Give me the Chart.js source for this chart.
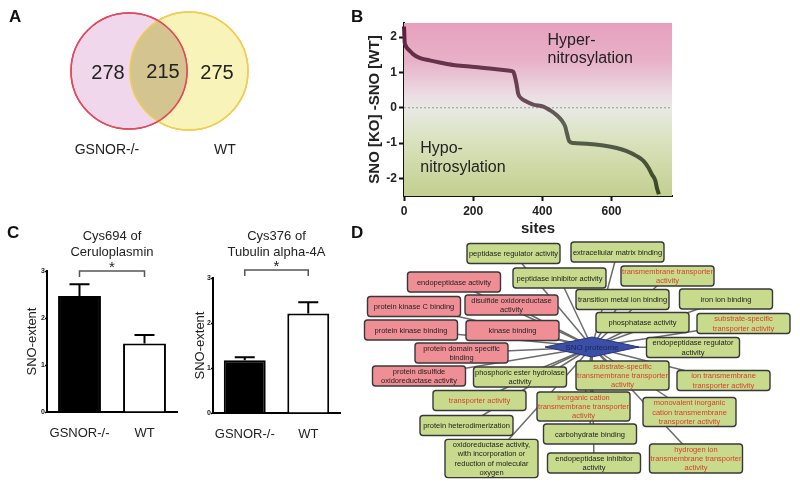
<!DOCTYPE html>
<html>
<head>
<meta charset="utf-8">
<title>SNO proteome</title>
<script src="https://cdn.jsdelivr.net/npm/chart.js@4.4.1/dist/chart.umd.min.js"></script>
<style>
  body { margin: 0; width: 800px; height: 489px; position: relative; overflow: hidden; background: #fff;
         font-family: "Liberation Sans", Arial, sans-serif; }
  canvas { position: absolute; }
  .tag { position: absolute; font-weight: bold; font-size: 17px; color: #111; line-height: 1; }
</style>
</head>
<body>
<canvas id="venn" width="330" height="200" style="left:0;top:0"></canvas>
<canvas id="diff" width="340" height="240" style="left:340px;top:0"></canvas>
<canvas id="cerulo" width="190" height="222" style="left:0;top:228px"></canvas>
<canvas id="tubulin" width="160" height="222" style="left:185px;top:228px"></canvas>
<canvas id="network" width="460" height="257" style="left:340px;top:232px"></canvas>
<div class="tag" style="left:9px;top:8px">A</div>
<div class="tag" style="left:351px;top:8px">B</div>
<div class="tag" style="left:7px;top:224px">C</div>
<div class="tag" style="left:351px;top:224px">D</div>
<script>
var fam = '"Liberation Sans", Arial, sans-serif';
Chart.defaults.font.family = fam;

// --- A: overlap of SNO sites
var vennSets = ['GSNOR-/-', 'WT'];
var vennOnly = [278, 275];
var vennShared = 215;

// --- B: sorted SNO difference per site
var siteIdx = [0, 2, 4, 7, 16, 26, 45, 74, 103, 142, 190, 239, 287, 305, 316, 321, 326, 330, 340, 355,
               374, 403, 422, 442, 456, 466, 471, 478, 490, 528, 577, 615, 644, 673, 693, 707, 717, 727, 731, 737];
var snoDiff = [2.3, 1.85, 1.78, 1.71, 1.62, 1.52, 1.41, 1.34, 1.28, 1.21, 1.17, 1.12, 1.07, 1.05, 1.02, 0.87, 0.64, 0.40, 0.26, 0.17,
               0.09, 0.03, -0.07, -0.21, -0.36, -0.53, -0.72, -0.95, -1.0, -1.02, -1.07, -1.14, -1.23, -1.37, -1.51, -1.70, -1.89, -2.07, -2.26, -2.45];
var siteTicks = [0, 200, 400, 600];
var diffTicks = [-2, -1, 0, 1, 2];

// --- C: SNO-extent bars
var groups = ['GSNOR-/-', 'WT'];
var cerulo = [2.47, 1.46];
var ceruloErr = [0.25, 0.18];
var tubulin = [1.17, 2.21];
var tubulinErr = [0.07, 0.25];
var extentTicks = [0, 1, 2, 3];

// --- D: GO terms around the SNO proteome
var hubLabel = 'SNO proteome';
var goTerms = [
  'peptidase regulator activity',
  'extracellular matrix binding',
  'endopeptidase activity',
  'peptidase inhibitor activity',
  'transmembrane transporter\nactivity',
  'protein kinase C binding',
  'disulfide oxidoreductase\nactivity',
  'transition metal ion binding',
  'iron ion binding',
  'protein kinase binding',
  'kinase binding',
  'phosphatase activity',
  'substrate-specific\ntransporter activity',
  'endopeptidase regulator\nactivity',
  'protein domain specific\nbinding',
  'protein disulfide\noxidoreductase activity',
  'phosphoric ester hydrolase\nactivity',
  'substrate-specific\ntransmembrane transporter\nactivity',
  'ion transmembrane\ntransporter activity',
  'transporter activity',
  'inorganic cation\ntransmembrane transporter\nactivity',
  'monovalent inorganic\ncation transmembrane\ntransporter activity',
  'protein heterodimerization',
  'carbohydrate binding',
  'oxidoreductase activity,\nwith incorporation or\nreduction of molecular\noxygen',
  'endopeptidase inhibitor\nactivity',
  'hydrogen ion\ntransmembrane transporter\nactivity'
];
// g = green box, r = red box, t = green box with red text (transporter terms)
var goKind = ['g', 'g', 'r', 'g', 't', 'r', 'r', 'g', 'g', 'r', 'r', 'g', 't', 'g', 'r', 'r', 'g', 't', 't', 't', 't', 't', 'g', 'g', 'g', 'g', 't'];

// network layout (canvas units)
var hubPos = [252, 115];
var nodePos = [[173.5, 21.5], [277.5, 20], [114, 50], [219.5, 46], [327.5, 44], [74, 74.5], [171.5, 73], [282.5, 67.5],
  [386, 67], [71, 98], [172.5, 98.5], [302.5, 90.5], [403.5, 91.5], [353, 115.5], [121.5, 121], [79, 144], [180, 145],
  [282.5, 143.5], [383.5, 148.5], [139.5, 168.5], [243.5, 174.5], [349.5, 180], [126.5, 193.5], [250, 202],
  [151.5, 226.5], [254, 231], [356, 226.5]];

var noTips = { legend: { display: false }, tooltip: { enabled: false } };

// ================= A =================
var vennLayout = { cx: [129, 189], cy: 71, r: [58, 59] };
var vennFill = ['#f0d7ec', '#f8f3b8'];
var vennEdge = ['#e14a5c', '#f0cd50'];

var vennPlugin = {
  id: 'vennText',
  afterDatasetsDraw: function (chart) {
    var ctx = chart.ctx, xs = chart.scales.x, ys = chart.scales.y;
    var pts = chart.data.datasets.map(function (d) { return d.data[0]; });
    var px = pts.map(function (p) { return xs.getPixelForValue(p.x); });
    var py = ys.getPixelForValue(pts[0].y);
    ctx.save();
    ctx.beginPath(); ctx.arc(px[0], py, pts[0].r, 0, Math.PI * 2); ctx.clip();
    ctx.beginPath(); ctx.arc(px[1], py, pts[1].r, 0, Math.PI * 2);
    ctx.fillStyle = '#d4c590'; ctx.fill();
    ctx.restore();
    ctx.save();
    ctx.lineWidth = 1.5;
    [1, 0].forEach(function (i) {
      ctx.beginPath(); ctx.arc(px[i], py, pts[i].r, 0, Math.PI * 2);
      ctx.strokeStyle = vennEdge[i]; ctx.stroke();
    });
    ctx.fillStyle = '#222'; ctx.textAlign = 'center'; ctx.textBaseline = 'middle';
    ctx.font = '20px ' + fam;
    ctx.fillText(vennOnly[0], px[0] - 21, py + 2);
    ctx.fillText(vennShared, (px[0] + px[1]) / 2 + 4, py + 1);
    ctx.fillText(vennOnly[1], px[1] + 28, py + 2);
    ctx.font = '14px ' + fam;
    ctx.fillText(vennSets[0], px[0] - 22, py + 79);
    ctx.fillText(vennSets[1], px[1] + 36, py + 79);
    ctx.restore();
  }
};

new Chart(document.getElementById('venn'), {
  type: 'bubble',
  data: {
    datasets: vennSets.map(function (name, i) {
      return {
        label: name,
        data: [{ x: vennLayout.cx[i], y: vennLayout.cy, r: vennLayout.r[i] }],
        backgroundColor: vennFill[i], borderColor: vennEdge[i], borderWidth: 1.5, clip: false
      };
    })
  },
  options: {
    responsive: false, animation: false, layout: { padding: 0, autoPadding: false }, plugins: noTips,
    scales: { x: { display: false, min: 0, max: 330 }, y: { display: false, min: 0, max: 200, reverse: true } }
  },
  plugins: [vennPlugin]
});

// ================= B =================
var bgPlugin = {
  id: 'bands',
  beforeDatasetsDraw: function (chart) {
    var ctx = chart.ctx, a = chart.chartArea, xs = chart.scales.x, ys = chart.scales.y;
    var g = ctx.createLinearGradient(0, a.top, 0, a.bottom);
    g.addColorStop(0, '#e6a0bd');
    g.addColorStop(0.22, '#e8b1c8');
    g.addColorStop(0.42, '#ebdde3');
    g.addColorStop(0.49, '#e9e8e6');
    g.addColorStop(0.6, '#e0e6cd');
    g.addColorStop(0.8, '#d1dbab');
    g.addColorStop(1, '#c2cf90');
    ctx.save();
    ctx.fillStyle = g;
    ctx.fillRect(a.left, a.top, a.right - a.left, a.bottom - a.top);
    var y0 = ys.getPixelForValue(0);
    ctx.strokeStyle = '#9a9a9a'; ctx.lineWidth = 1; ctx.setLineDash([2, 2]);
    ctx.beginPath(); ctx.moveTo(a.left, y0); ctx.lineTo(a.right, y0); ctx.stroke();
    ctx.setLineDash([]);
    ctx.fillStyle = '#222'; ctx.font = '16px ' + fam; ctx.textBaseline = 'alphabetic';
    var hx = xs.getPixelForValue(415), hy = ys.getPixelForValue(1.78);
    ctx.fillText('Hyper-', hx, hy); ctx.fillText('nitrosylation', hx, hy + 18);
    var lx = xs.getPixelForValue(47), ly = ys.getPixelForValue(-1.27);
    ctx.fillText('Hypo-', lx, ly); ctx.fillText('nitrosylation', lx, ly + 19);
    ctx.restore();
  }
};

function curveColor(c) {
  var a = c.chart.chartArea;
  if (!a) return '#5a3a48';
  var g = c.chart.ctx.createLinearGradient(0, a.top, 0, a.bottom);
  g.addColorStop(0, '#5e1a3d');
  g.addColorStop(0.45, '#6b4a58');
  g.addColorStop(0.58, '#5c6355');
  g.addColorStop(1, '#38451f');
  return g;
}

new Chart(document.getElementById('diff'), {
  type: 'scatter',
  data: {
    datasets: [{
      data: siteIdx.map(function (s, i) { return { x: s, y: snoDiff[i] }; }),
      showLine: true, borderWidth: 4, pointRadius: 0, borderColor: curveColor,
      cubicInterpolationMode: 'monotone', clip: 4
    }]
  },
  options: {
    responsive: false, animation: false, plugins: noTips,
    layout: { padding: { top: 23, right: 8, left: 0, bottom: 0 }, autoPadding: false },
    scales: {
      x: {
        type: 'linear', min: 0, max: 775,
        afterBuildTicks: function (s) { s.ticks = siteTicks.map(function (v) { return { value: v }; }); },
        afterFit: function (s) { s.height = 44; },
        grid: { drawOnChartArea: false, tickLength: 5, tickWidth: 2, tickColor: '#111' },
        border: { color: '#111', width: 2 },
        ticks: { color: '#222', font: { size: 12, weight: 'bold' }, padding: 3, maxRotation: 0 },
        title: { display: true, text: 'sites', color: '#222', font: { size: 15, weight: 'bold' }, padding: { top: 0, bottom: 2 } }
      },
      y: {
        min: -2.5, max: 2.4,
        afterBuildTicks: function (s) { s.ticks = diffTicks.map(function (v) { return { value: v }; }); },
        afterFit: function (s) { s.width = 64; },
        grid: { drawOnChartArea: false, tickLength: 5, tickWidth: 2, tickColor: '#111' },
        border: { color: '#111', width: 2 },
        ticks: { color: '#222', font: { size: 12, weight: 'bold' }, padding: 2 },
        title: { display: true, text: 'SNO [KO] -SNO [WT]', color: '#222', font: { size: 15, weight: 'bold' }, padding: { top: 26, bottom: 0 } }
      }
    }
  },
  plugins: [bgPlugin]
});

// ================= C =================
var errPlugin = {
  id: 'errSig',
  afterDatasetsDraw: function (chart, args, opts) {
    var ctx = chart.ctx, y = chart.scales.y, meta = chart.getDatasetMeta(0);
    var vals = chart.data.datasets[0].data, a = chart.chartArea;
    ctx.save();
    ctx.strokeStyle = '#000'; ctx.lineWidth = 2;
    meta.data.forEach(function (bar, i) {
      var top = y.getPixelForValue(vals[i] + opts.errs[i]);
      ctx.beginPath();
      ctx.moveTo(bar.x, bar.y); ctx.lineTo(bar.x, top);
      ctx.moveTo(bar.x - 10, top); ctx.lineTo(bar.x + 10, top);
      ctx.stroke();
    });
    var by = y.getPixelForValue(opts.sigAt);
    var x0 = meta.data[0].x, x1 = meta.data[1].x;
    ctx.strokeStyle = '#555'; ctx.lineWidth = 1.5;
    ctx.beginPath();
    ctx.moveTo(x0, by + 6); ctx.lineTo(x0, by); ctx.lineTo(x1, by); ctx.lineTo(x1, by + 6);
    ctx.stroke();
    ctx.fillStyle = '#222'; ctx.textAlign = 'center'; ctx.textBaseline = 'middle';
    ctx.font = '15px ' + fam;
    ctx.fillText('*', (x0 + x1) / 2, by - 3);
    ctx.font = '13px ' + fam;
    var cx = (a.left + a.right) / 2;
    opts.title.forEach(function (t, k) { ctx.fillText(t, cx, 8 + k * 16); });
    ctx.restore();
  }
};

function barPanel(id, title, values, errs, sigAt, topPad, axisH, yAxisW, yTitlePad, padRight) {
  return new Chart(document.getElementById(id), {
    type: 'bar',
    data: {
      labels: groups,
      datasets: [{ data: values, backgroundColor: ['#000', '#fff'], borderColor: '#000', borderWidth: 2,
                   barPercentage: 0.66, categoryPercentage: 1 }]
    },
    options: {
      responsive: false, animation: false,
      layout: { padding: { top: topPad, right: padRight, left: 0, bottom: 0 }, autoPadding: false },
      plugins: { legend: { display: false }, tooltip: { enabled: false },
                 errSig: { errs: errs, sigAt: sigAt, title: title } },
      scales: {
        x: {
          afterFit: function (s) { s.height = axisH; },
          grid: { display: false },
          border: { color: '#000', width: 2 },
          ticks: { color: '#222', font: { size: 13 }, padding: 6, maxRotation: 0 }
        },
        y: {
          min: 0, max: 3,
          afterBuildTicks: function (s) { s.ticks = extentTicks.map(function (v) { return { value: v }; }); },
          afterFit: function (s) { s.width = yAxisW; },
          grid: { drawOnChartArea: false, tickLength: 2, tickWidth: 1.5, tickColor: '#000' },
          border: { color: '#000', width: 2 },
          ticks: { color: '#222', font: { size: 7, weight: 'bold' }, padding: 0 },
          title: { display: true, text: 'SNO-extent', color: '#222', font: { size: 13 }, padding: { top: yTitlePad, bottom: 0 } }
        }
      }
    },
    plugins: [errPlugin]
  });
}

barPanel('cerulo', ['Cys694 of', 'Ceruloplasmin'], cerulo, ceruloErr, 3.0, 43, 38, 47, 25, 13);
barPanel('tubulin', ['Cys376 of', 'Tubulin alpha-4A'], tubulin, tubulinErr, 3.18, 50, 37, 28, 8, 5);

// ================= D =================
var netPlugin = {
  id: 'netBoxes',
  afterDatasetsDraw: function (chart) {
    var ctx = chart.ctx, xs = chart.scales.x, ys = chart.scales.y;
    ctx.save();
    var hx = xs.getPixelForValue(hubPos[0]), hy = ys.getPixelForValue(hubPos[1]);
    ctx.beginPath();
    ctx.moveTo(hx - 47, hy); ctx.lineTo(hx, hy - 10); ctx.lineTo(hx + 47, hy); ctx.lineTo(hx, hy + 10);
    ctx.closePath();
    ctx.fillStyle = '#3b4fa6'; ctx.fill();
    ctx.strokeStyle = '#27357a'; ctx.lineWidth = 1; ctx.stroke();
    ctx.fillStyle = '#1b2660'; ctx.textAlign = 'center'; ctx.textBaseline = 'middle';
    ctx.font = '8px ' + fam;
    ctx.fillText(hubLabel, hx, hy + 0.5);

    ctx.font = '7.5px ' + fam;
    goTerms.forEach(function (t, i) {
      var lines = t.split('\n');
      var w = 93, h = lines.length <= 2 ? 20 : lines.length * 9.3 + 1;
      var cx = xs.getPixelForValue(nodePos[i][0]), cy = ys.getPixelForValue(nodePos[i][1]);
      ctx.beginPath();
      ctx.roundRect(cx - w / 2, cy - h / 2, w, h, 3);
      ctx.fillStyle = goKind[i] === 'r' ? '#f08e96' : '#c8da8c';
      ctx.fill();
      ctx.strokeStyle = '#383838'; ctx.lineWidth = 1.4; ctx.stroke();
      ctx.fillStyle = goKind[i] === 't' ? '#d8402e' : '#222';
      var lh = lines.length <= 2 ? 9.5 : 9.2;
      lines.forEach(function (ln, k) {
        ctx.fillText(ln, cx, cy + (k - (lines.length - 1) / 2) * lh + 0.5);
      });
    });
    ctx.restore();
  }
};

new Chart(document.getElementById('network'), {
  type: 'scatter',
  data: {
    datasets: goTerms.map(function (t, i) {
      return {
        label: t,
        data: [{ x: hubPos[0], y: hubPos[1] }, { x: nodePos[i][0], y: nodePos[i][1] }],
        showLine: true, borderColor: '#6c6c6c', borderWidth: 1.5, pointRadius: 0
      };
    })
  },
  options: {
    responsive: false, animation: false, layout: { padding: 0, autoPadding: false }, plugins: noTips,
    scales: { x: { display: false, min: 0, max: 460 }, y: { display: false, min: 0, max: 257, reverse: true } }
  },
  plugins: [netPlugin]
});
</script>
</body>
</html>
